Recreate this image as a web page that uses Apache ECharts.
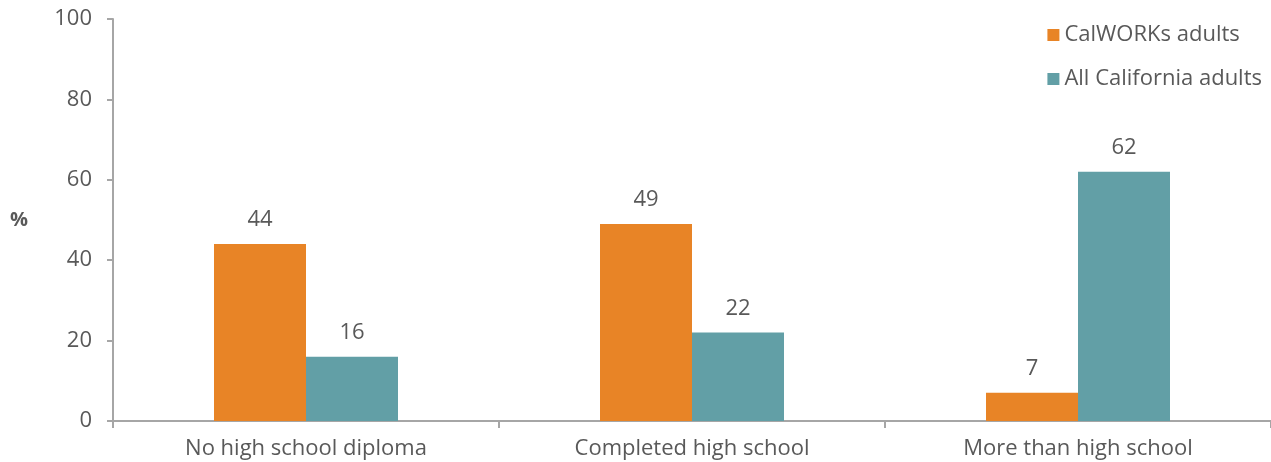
<!DOCTYPE html>
<html><head><meta charset="utf-8">
<script src="https://cdn.jsdelivr.net/npm/echarts@6/dist/echarts.min.js"></script>
<style>html,body{margin:0;padding:0;background:#fff}#c{width:1271px;height:462px}</style>
</head><body><div id="c"></div>
<script>
const categories = ["No high school diploma", "Completed high school", "More than high school"];
const calworks = [44, 49, 7];
const allCalifornia = [16, 22, 62];
const seriesNames = ["CalWORKs adults", "All California adults"];
const yTicks = [0, 20, 40, 60, 80, 100];

const font = "'Open Sans', 'Noto Sans', sans-serif";
const txt = "#595959";
const axisCol = "#a6a6a6";
const fs = 22;
const chart = echarts.init(document.getElementById('c'), null, {renderer: 'canvas'});
chart.setOption({
  animation: false,
  textStyle: {fontFamily: font},
  grid: {left: 113, right: 0, top: 19, bottom: 41, containLabel: false},
  legend: {
    orient: 'vertical', right: 4, top: 19, itemWidth: 12, itemHeight: 12, itemGap: 22,
    icon: 'rect',
    textStyle: {fontSize: fs, color: txt, fontFamily: font},
    data: seriesNames
  },
  xAxis: {
    type: 'category', data: categories,
    axisLine: {lineStyle: {color: axisCol, width: 2}},
    axisTick: {show: true, length: 7, lineStyle: {color: axisCol, width: 2}},
    axisLabel: {fontSize: fs, color: txt, margin: 17, fontFamily: font}
  },
  yAxis: {
    type: 'value', min: yTicks[0], max: yTicks[yTicks.length - 1], interval: 20,
    name: '%', nameLocation: 'middle', nameRotate: 0, nameGap: 85,
    nameTextStyle: {fontSize: 20, color: txt, fontFamily: font, fontWeight: 'bold'},
    axisLine: {show: true, lineStyle: {color: axisCol, width: 2}},
    axisTick: {show: true, length: 6, lineStyle: {color: axisCol, width: 2}},
    splitLine: {show: false},
    axisLabel: {fontSize: fs, color: txt, margin: 21, fontFamily: font}
  },
  series: [
    {name: seriesNames[0], type: 'bar', data: calworks, barWidth: 92, barGap: '0%',
     itemStyle: {color: '#E88426'},
     label: {show: true, position: 'top', distance: 13, fontSize: fs, color: txt, fontFamily: font}},
    {name: seriesNames[1], type: 'bar', data: allCalifornia, barWidth: 92, barGap: '0%',
     itemStyle: {color: '#629FA6'},
     label: {show: true, position: 'top', distance: 13, fontSize: fs, color: txt, fontFamily: font}}
  ]
});
</script></body></html>
